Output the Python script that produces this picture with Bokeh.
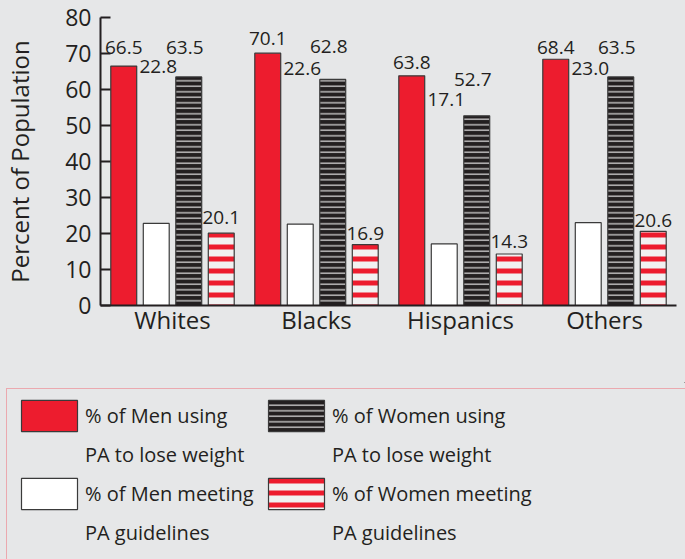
from bokeh.plotting import figure
from bokeh.layouts import column
from bokeh.models import (FactorRange, ColumnDataSource, Legend, LegendItem,
                          FixedTicker, Range1d)
from bokeh.transform import dodge
from bokeh.core.properties import value
from bokeh.embed import file_html
from bokeh.resources import INLINE

# ---------------- data ----------------
categories = ["Whites", "Blacks", "Hispanics", "Others"]
men_lose = [66.5, 70.1, 63.8, 68.4]      # % of Men using PA to lose weight
men_meet = [22.8, 22.6, 17.1, 23.0]      # % of Men meeting PA guidelines
women_lose = [63.5, 62.8, 52.7, 63.5]    # % of Women using PA to lose weight
women_meet = [20.1, 16.9, 14.3, 20.6]    # % of Women meeting PA guidelines
y_ticks = [0, 10, 20, 30, 40, 50, 60, 70, 80]
series_label_lines = [("% of Men using", "PA to lose weight"),
                      ("% of Men meeting", "PA guidelines"),
                      ("% of Women using", "PA to lose weight"),
                      ("% of Women meeting", "PA guidelines")]

# ---------------- layout of value labels (data units) ----------------
lbl_y_men_lose = [71.7, 74.2, 67.5, 71.7]
lbl_y_men_meet = [66.4, 65.8, 57.2, 65.8]
lbl_y_women_lose = [71.7, 71.9, 62.8, 71.7]
lbl_y_women_meet = [24.4, 20.0, 17.8, 23.6]

BG = "#e6e7e8"
RED = "#ed1c2e"
BLACK = "#231f20"
OUTLINE = "#3a3a3a"
TEXT = "#231f20"
FONT = "Open Sans"

src = ColumnDataSource(dict(
    cat=categories,
    men_lose=men_lose, men_meet=men_meet,
    women_lose=women_lose, women_meet=women_meet,
    t_men_lose=[f"{v:.1f}" for v in men_lose],
    t_men_meet=[f"{v:.1f}" for v in men_meet],
    t_women_lose=[f"{v:.1f}" for v in women_lose],
    t_women_meet=[f"{v:.1f}" for v in women_meet],
    ly_men_lose=lbl_y_men_lose, ly_men_meet=lbl_y_men_meet,
    ly_women_lose=lbl_y_women_lose, ly_women_meet=lbl_y_women_meet,
))

# ---------------- styles ----------------
STYLES = [
    dict(fill_color=RED, line_color=OUTLINE, line_width=1.2),
    dict(fill_color="white", line_color=OUTLINE, line_width=1.2),
    dict(fill_color=BLACK, line_color=OUTLINE, line_width=1.2,
         hatch_pattern="horizontal_line", hatch_color="#f2f2f2",
         hatch_scale=5.5, hatch_weight=1.1),
    dict(fill_color="#f1f1f1", line_color=OUTLINE, line_width=1.2,
         hatch_pattern="horizontal_line", hatch_color=RED,
         hatch_scale=12, hatch_weight=5),
]
series_cols = ["men_lose", "men_meet", "women_lose", "women_meet"]

# ---------------- chart ----------------
p = figure(width=685, height=382, x_range=FactorRange(*categories),
           y_range=Range1d(0, 80), output_backend="svg", toolbar_location=None,
           min_border_left=100, min_border_top=17, min_border_right=9,
           min_border_bottom=77)
p.background_fill_color = BG
p.border_fill_color = BG
p.outline_line_color = None
p.xgrid.visible = False
p.ygrid.visible = False

pitch = 0.2257
offs = [-1.5 * pitch, -0.5 * pitch, 0.5 * pitch, 1.5 * pitch]
bw = 0.18
label_dx = [0, 2, -4, 0]

for col, off, sty, dx in zip(series_cols, offs, STYLES, label_dx):
    p.vbar(x=dodge("cat", off, range=p.x_range), top=col, width=bw,
           source=src, **sty)
    p.text(x=dodge("cat", off, range=p.x_range), y="ly_" + col, text="t_" + col,
           x_offset=dx, source=src, text_align="center", text_baseline="middle",
           text_font=value(FONT), text_font_size="19px", text_color=TEXT)

yax = p.yaxis[0]
yax.ticker = FixedTicker(ticks=y_ticks)
yax.axis_line_width = 2
yax.axis_line_color = TEXT
yax.major_tick_in = 10
yax.major_tick_out = 0
yax.major_tick_line_width = 2
yax.major_tick_line_color = TEXT
yax.minor_tick_line_color = None
yax.major_label_text_font = FONT
yax.major_label_text_font_size = "23px"
yax.major_label_text_color = TEXT
yax.major_label_standoff = 9
yax.axis_label = "Percent of Population"
yax.axis_label_text_font = FONT
yax.axis_label_text_font_size = "24px"
yax.axis_label_text_font_style = "normal"
yax.axis_label_text_color = TEXT
yax.axis_label_standoff = 26

xax = p.xaxis[0]
xax.axis_line_width = 2
xax.axis_line_color = TEXT
xax.major_tick_line_color = None
xax.minor_tick_line_color = None
xax.major_label_text_font = FONT
xax.major_label_text_font_size = "24px"
xax.major_label_text_color = TEXT
xax.major_label_standoff = -9

# ---------------- legend panel ----------------
q = figure(width=685, height=177, x_range=Range1d(0, 1), y_range=Range1d(0, 1),
           output_backend="svg", toolbar_location=None,
           x_axis_location=None, y_axis_location=None,
           min_border_left=0, min_border_right=0, min_border_top=0,
           min_border_bottom=0)
q.grid.visible = False
q.background_fill_color = BG
q.border_fill_color = BG
q.outline_line_color = None

for fig in (p, q):
    if "frame_align" in fig.properties():
        fig.frame_align = False

# legend swatch renderers: zero-height bars lying outside this panel's view
legend_renderers = [q.vbar(x=col, bottom=col, top=col, width=0.1, source=src, **sty)
                    for col, sty in zip(series_cols, STYLES)]
blank = q.vbar(x=[], top=[], width=0.1, fill_alpha=0, line_alpha=0)

items = []
for grp in ((0, 1), (2, 3)):          # one legend column per group
    for k in grp:
        first, second = series_label_lines[k]
        items.append(LegendItem(label=first, renderers=[legend_renderers[k]]))
        items.append(LegendItem(label=second, renderers=[blank]))
    items.append(LegendItem(label=" ", renderers=[blank]))
items.append(LegendItem(label=" ", renderers=[blank]))   # widens frame to page edge

legend = Legend(items=items, nrows=5, location="top_left", margin=6,
                border_line_color="#ef6c75", border_line_width=1.5,
                background_fill_alpha=0,
                padding=7, spacing=0, label_standoff=1,
                glyph_width=70, glyph_height=39, label_width=176,
                label_height=31,
                label_text_font=FONT, label_text_font_size="20px",
                label_text_color=TEXT)
q.add_layout(legend, "center")

layout = column(p, q, spacing=0)

html = file_html(layout, INLINE)
html = html.replace("<body>", '<body style="background-color:#e6e7e8; margin:0;">')
open("out.html", "w").write(html)
